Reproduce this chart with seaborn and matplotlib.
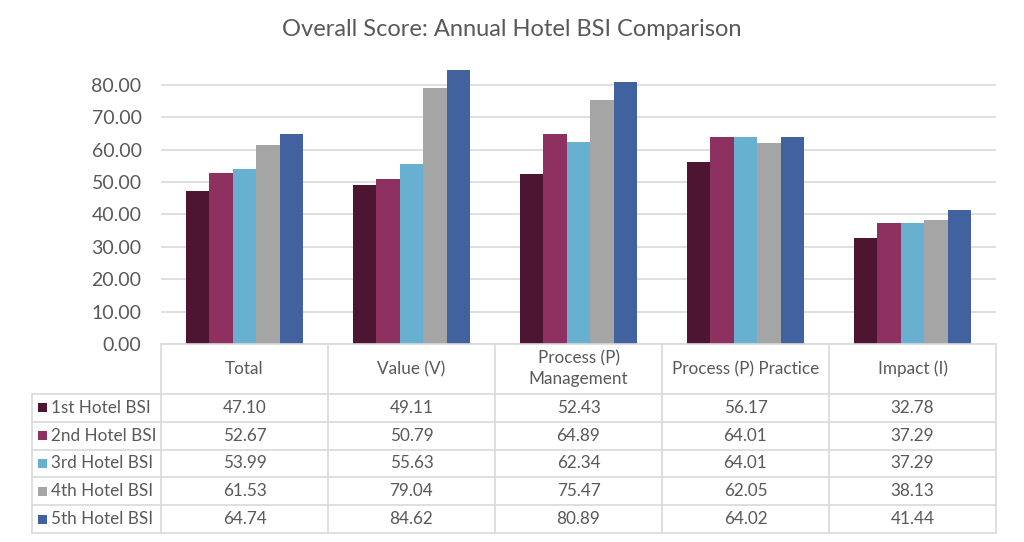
import matplotlib
matplotlib.use("Agg")
import matplotlib.pyplot as plt
import seaborn as sns
import pandas as pd
from matplotlib.lines import Line2D
from matplotlib.patches import Rectangle

categories = ["Total", "Value (V)", "Process (P)\nManagement", "Process (P) Practice", "Impact (I)"]
series = ["1st Hotel BSI", "2nd Hotel BSI", "3rd Hotel BSI", "4th Hotel BSI", "5th Hotel BSI"]
v1 = [47.10, 49.11, 52.43, 56.17, 32.78]
v2 = [52.67, 50.79, 64.89, 64.01, 37.29]
v3 = [53.99, 55.63, 62.34, 64.01, 37.29]
v4 = [61.53, 79.04, 75.47, 62.05, 38.13]
v5 = [64.74, 84.62, 80.89, 64.02, 41.44]
colors = ["#4E1533", "#8E3160", "#67B0CF", "#A5A5A5", "#41629E"]
title = "Overall Score: Annual Hotel BSI Comparison"

values = [v1, v2, v3, v4, v5]
rows = []
for s, vals in zip(series, values):
    for c, v in zip(categories, vals):
        rows.append({"category": c, "series": s, "value": v})
df = pd.DataFrame(rows)

sns.set_style("white")
plt.rcParams["font.family"] = ["Lato", "DejaVu Sans"]
txt = "#595959"
grid = "#D9D9D9"

W, H = 1024, 542
fig = plt.figure(figsize=(W / 100, H / 100), dpi=100)
x0, x1 = 161, 996
y0, ytop = 344, 68
ax = fig.add_axes([x0 / W, 1 - y0 / H, (x1 - x0) / W, (y0 - ytop) / H])

sns.barplot(data=df, x="category", y="value", hue="series", order=categories,
            hue_order=series, palette=colors, width=0.7, saturation=1,
            edgecolor="none", linewidth=0, ax=ax, legend=False, zorder=3)
ax.set_xlim(-0.5, len(categories) - 0.5)
ax.set_ylim(0, 85.2)
ax.set_yticks(range(0, 81, 10))
ax.set_yticklabels([f"{t:.2f}" for t in range(0, 81, 10)], fontsize=14, color=txt)
ax.set_xticks([])
ax.set_xlabel("")
ax.set_ylabel("")
ax.grid(axis="y", color=grid, linewidth=1.2, zorder=0)
for sp in ax.spines.values():
    sp.set_visible(False)
ax.tick_params(axis="y", length=0, pad=14)

fig.text(512 / W, 1 - 30 / H, title, ha="center", va="center", fontsize=17, color=txt)

# data table
def fx(px):
    return px / W

def fy(py):
    return 1 - py / H

col_edges = [x0 + i * (x1 - x0) / len(categories) for i in range(len(categories) + 1)]
label_left = 32
row_edges = [394, 421.8, 449.6, 477.4, 505.2, 533]
lc = "#D9D9D9"
lw = 1.2
fs = 12.3

def hline(xa, xb, y):
    fig.add_artist(Line2D([fx(xa), fx(xb)], [fy(y), fy(y)], color=lc, lw=lw))

def vline(x, ya, yb):
    fig.add_artist(Line2D([fx(x), fx(x)], [fy(ya), fy(yb)], color=lc, lw=lw))

hline(x0, x1, y0)
for y in row_edges:
    hline(label_left, x1, y)
for x in col_edges:
    vline(x, y0, row_edges[-1])
vline(label_left, row_edges[0], row_edges[-1])

for i, c in enumerate(categories):
    cx = (col_edges[i] + col_edges[i + 1]) / 2
    fig.text(fx(cx), fy(369), c, ha="center", va="center", fontsize=fs,
             color=txt, linespacing=1.35)

for r, (s, vals) in enumerate(zip(series, values)):
    cy = (row_edges[r] + row_edges[r + 1]) / 2
    fig.add_artist(Rectangle((fx(38), fy(cy + 4.5)), 9 / W, 9 / H,
                             transform=fig.transFigure, facecolor=colors[r],
                             edgecolor="none"))
    fig.text(fx(51), fy(cy), s, ha="left", va="center", fontsize=fs, color=txt)
    for i, v in enumerate(vals):
        cx = (col_edges[i] + col_edges[i + 1]) / 2
        fig.text(fx(cx), fy(cy), f"{v:.2f}", ha="center", va="center",
                 fontsize=fs, color=txt)

fig.savefig("out.png", dpi=100, facecolor="white")
